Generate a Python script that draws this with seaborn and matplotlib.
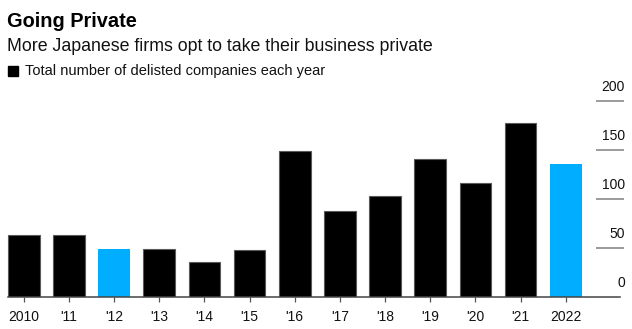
import matplotlib
matplotlib.use("Agg")
import matplotlib.pyplot as plt
import matplotlib.patches as mpatches
import pandas as pd
import seaborn as sns

# Delisted Japanese companies per year
years = ["2010", "'11", "'12", "'13", "'14", "'15", "'16", "'17", "'18", "'19", "'20", "'21", "2022"]
delisted = [63, 63, 49, 49, 36, 48, 149, 88, 103, 141, 116, 177, 136]
highlight = [False, False, True, False, False, False, False, False, False, False, False, False, True]
y_ticks = [0, 50, 100, 150, 200]

BLUE = "#00ADFF"
BLACK = "#000000"

df = pd.DataFrame({"year": years, "count": delisted,
                   "group": ["hi" if h else "base" for h in highlight]})

sns.set_theme(style="white")
plt.rcParams["font.family"] = ["Liberation Sans", "DejaVu Sans"]

W, H = 632, 329
fig = plt.figure(figsize=(W / 100, H / 100), dpi=100)

# axes in pixel terms: baseline at y=297, full width
ax_bottom = 297
ax_top = 95
ax = fig.add_axes([0, 1 - ax_bottom / H, 1, (ax_bottom - ax_top) / H])

sns.barplot(data=df, x="year", y="count", hue="group", order=years,
            palette={"base": BLACK, "hi": BLUE}, dodge=False, width=0.70,
            legend=False, ax=ax, linewidth=0, saturation=1)

# thin grey rim on the black bars
for patch in ax.patches:
    fc = patch.get_facecolor()
    if fc[0] < 0.1 and fc[2] < 0.1:
        patch.set_edgecolor("#5a5a5a")
        patch.set_linewidth(0.8)

px_per_unit = 45.17
x0 = 23.7
ax.set_xlim(-x0 / px_per_unit, (W - x0) / px_per_unit)
ax.set_ylim(0, (ax_bottom - ax_top) / 0.9815)

for s in ["top", "left", "right"]:
    ax.spines[s].set_visible(False)
ax.spines["bottom"].set_color("#444444")
ax.spines["bottom"].set_linewidth(1.1)
ax.spines["bottom"].set_bounds(-0.34, (620 - x0) / px_per_unit)

ax.set_xlabel("")
ax.set_ylabel("")
ax.set_yticks([])
ax.tick_params(axis="x", bottom=True, direction="out", length=3.5, width=0.9,
               color="#555555", pad=6, labelsize=10, labelcolor="#111111")

# right-hand value scale: short grey rules with labels sitting on top
ytrans = ax.get_yaxis_transform()
for v in y_ticks:
    if v > 0:
        ax.hlines(v, 596 / W, 624 / W, transform=ytrans, color="#8a8a8a",
                  linewidth=1.2, clip_on=False)
    ax.annotate(str(v), xy=(625 / W, v), xycoords=ytrans,
                xytext=(0, 5), textcoords="offset points",
                ha="right", va="bottom", fontsize=10, color="#111111")

# headings
fig.text(7 / W, 1 - 27 / H, "Going Private", fontsize=14.4, fontweight="bold",
         color="#000000", va="baseline", ha="left")
fig.text(7 / W, 1 - 51 / H, "More Japanese firms opt to take their business private",
         fontsize=12.8, color="#111111", va="baseline", ha="left")

# legend key
fig.patches.append(mpatches.Rectangle((8 / W, 1 - 76 / H), 10 / W, 10 / H,
                                      transform=fig.transFigure, color=BLACK))
fig.text(25 / W, 1 - 75.5 / H, "Total number of delisted companies each year",
         fontsize=10.5, color="#111111", va="baseline", ha="left")

fig.savefig("out.png", dpi=100, facecolor="white")
